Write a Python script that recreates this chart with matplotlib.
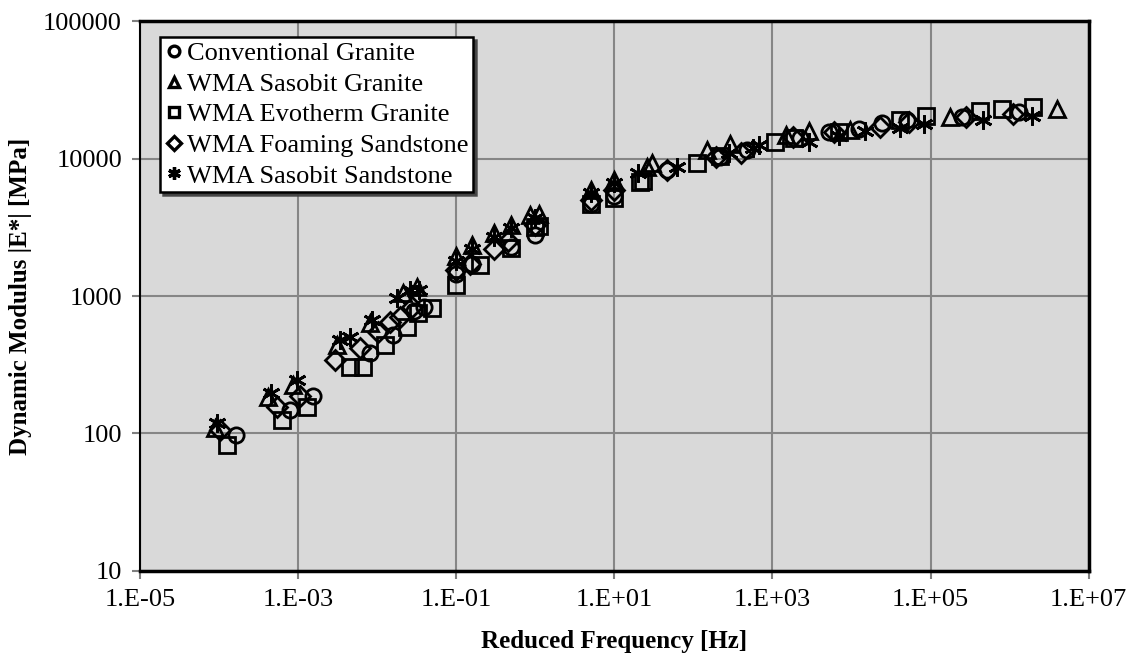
import numpy as np
import matplotlib
matplotlib.use('Agg')
import matplotlib.pyplot as plt
from matplotlib.ticker import FixedLocator, FuncFormatter, NullLocator

# Dados (frequência reduzida [Hz], módulo dinâmico [MPa])
freq_conv_granite = [1.66e-4, 7.9e-4, 1.55e-3, 8.1e-3, 1.58e-2, 2.9e-2, 3.96e-2, 0.1, 0.16, 0.5, 1.0, 5, 10,
                     46, 214, 470, 2200, 5200, 1.26e4, 2.45e4, 5.0e4, 2.5e5, 1.3e6]
mod_conv_granite = [98, 148, 186, 385, 520, 780, 830, 1450, 1700, 2270, 2780, 4700, 5300,
                    8200, 10300, 11500, 14000, 15500, 16500, 18000, 19000, 20000, 21800]

freq_sasobit_granite = [8.9e-5, 4.2e-4, 8.7e-4, 3.1e-3, 8.1e-3, 2.1e-2, 3.2e-2, 0.1, 0.16, 0.3, 0.5, 0.85, 1.1,
                        5, 10, 26, 30, 148, 290, 1500, 2900, 9500, 1.74e5, 4.0e6]
mod_sasobit_granite = [110, 184, 225, 440, 640, 1050, 1160, 1950, 2340, 2870, 3300, 3900, 3950,
                       5900, 6950, 8700, 9300, 11500, 12800, 14800, 15800, 16200, 20000, 23100]

freq_evotherm_granite = [1.26e-4, 6.2e-4, 1.28e-3, 4.5e-3, 6.6e-3, 1.26e-2, 2.4e-2, 3.3e-2, 5.0e-2, 0.1, 0.2, 0.5,
                         1.0, 1.1, 5, 10, 21, 23, 110, 214, 1070, 1900, 7000, 4.1e4, 8.8e4, 4.2e5, 8.1e5, 2.0e6]
mod_evotherm_granite = [82, 125, 157, 306, 306, 440, 596, 752, 815, 1200, 1680, 2250,
                        3170, 3250, 4700, 5200, 6800, 6900, 9300, 10500, 13300, 14200, 15600, 19000, 20300, 22300,
                        23100, 23700]

freq_foaming_sandstone = [1.03e-4, 5.4e-4, 1.05e-3, 2.9e-3, 6.0e-3, 1.02e-2, 1.44e-2, 1.95e-2, 2.75e-2, 0.1, 0.15,
                          0.3, 0.45, 1.0, 5, 10, 46, 195, 400, 1800, 6000, 2.3e4, 5.4e4, 2.8e5, 1.1e6]
mod_foaming_sandstone = [106, 157, 186, 343, 420, 550, 650, 705, 830, 1550, 1720,
                         2200, 2500, 3300, 5000, 5900, 8200, 10200, 11000, 14400, 15500, 17000, 18300, 20000, 21000]

freq_sasobit_sandstone = [9.3e-5, 4.6e-4, 9.6e-4, 3.4e-3, 4.5e-3, 8.5e-3, 1.78e-2, 2.6e-2, 3.4e-2, 0.1, 0.16, 0.3,
                          0.5, 1.0, 5, 10, 20, 62, 280, 560, 670, 2900, 7000, 1.47e4, 4.1e4, 8.3e4, 4.6e5, 1.9e6]
mod_sasobit_sandstone = [119, 196, 245, 480, 505, 668, 965, 1100, 1110, 1800, 2200, 2700,
                         3100, 3700, 5600, 6600, 7800, 8700, 11000, 11900, 12600, 13300, 14600, 16000, 16800, 17700,
                         19000, 20400]

series_labels = ['Conventional Granite', 'WMA Sasobit Granite', 'WMA Evotherm Granite',
                 'WMA Foaming Sandstone', 'WMA Sasobit Sandstone']
x_tick_values = [1e-5, 1e-3, 1e-1, 1e1, 1e3, 1e5, 1e7]
y_tick_values = [10, 100, 1000, 10000, 100000]

plt.rcParams['font.family'] = ['Liberation Serif', 'DejaVu Serif']

fig = plt.figure(figsize=(11.34, 6.6), dpi=100)
ax = fig.add_axes([0.1235, 0.135, 0.8365, 0.833])
ax.set_facecolor('#D9D9D9')

dados = [
    (freq_conv_granite, mod_conv_granite, 'o', 11),
    (freq_sasobit_granite, mod_sasobit_granite, '^', 11),
    (freq_evotherm_granite, mod_evotherm_granite, 's', 11),
    (freq_foaming_sandstone, mod_foaming_sandstone, 'D', 10),
    (freq_sasobit_sandstone, mod_sasobit_sandstone, (6, 2, 0), 13),
]
for (f, e, mk, ms), lab in zip(dados, series_labels):
    ax.plot(f, e, linestyle='none', marker=mk, markersize=ms, markerfacecolor='none',
            markeredgecolor='black', markeredgewidth=2.0, label=lab, zorder=3)

ax.set_xscale('log')
ax.set_yscale('log')
ax.set_xlim(1e-5, 1e7)
ax.set_ylim(10, 100000)

ax.xaxis.set_major_locator(FixedLocator(x_tick_values))
ax.xaxis.set_minor_locator(NullLocator())
ax.yaxis.set_major_locator(FixedLocator(y_tick_values))
ax.yaxis.set_minor_locator(NullLocator())


def fmt_x(v, pos):
    exp = int(round(np.log10(v)))
    return '1.E%s%02d' % ('+' if exp >= 0 else '-', abs(exp))


ax.xaxis.set_major_formatter(FuncFormatter(fmt_x))
ax.yaxis.set_major_formatter(FuncFormatter(lambda v, pos: '%d' % v))

ax.grid(True, color='#868686', linewidth=1.5, zorder=0)
ax.set_axisbelow(True)
ax.tick_params(axis='both', which='major', labelsize=19, length=6, width=1.5, color='#7F7F7F',
               direction='out', pad=7)

for lado in ['top', 'right', 'bottom']:
    ax.spines[lado].set_linewidth(2.5)
    ax.spines[lado].set_color('black')
ax.spines['left'].set_linewidth(1.5)
ax.spines['left'].set_color('black')

ax.set_xlabel('Reduced Frequency [Hz]', fontsize=18, fontweight='bold', labelpad=14)
ax.set_ylabel('Dynamic Modulus |E*| [MPa]', fontsize=18, fontweight='bold', labelpad=8)

leg = ax.legend(loc='upper left', bbox_to_anchor=(0.021, 0.971), borderaxespad=0, fontsize=19,
                frameon=True, fancybox=False, shadow={'color': '0.25', 'alpha': 0.9},
                handlelength=0.7, handletextpad=0.15, labelspacing=0.27, borderpad=0.18,
                markerscale=0.7)
leg.get_frame().set_edgecolor('black')
leg.get_frame().set_linewidth(1.8)
leg.get_frame().set_facecolor('white')
leg.get_frame().set_alpha(1)
for h in leg.legend_handles:
    h.set_markeredgewidth(2.4)

fig.savefig('out.png', dpi=100, facecolor='white')
